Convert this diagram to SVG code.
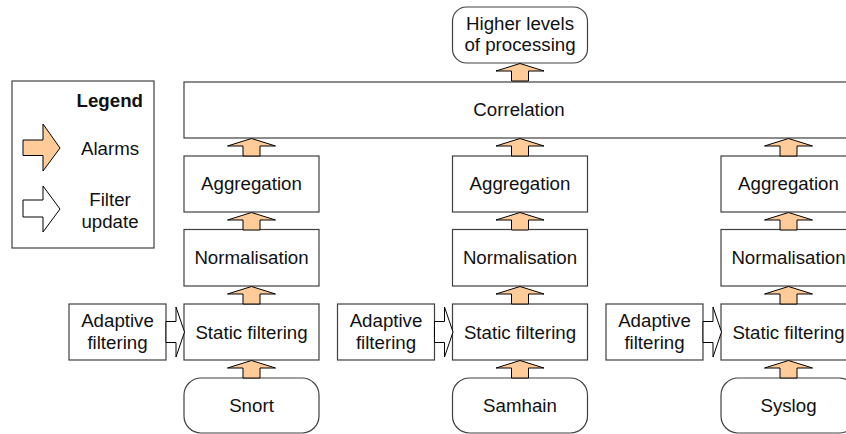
<svg xmlns="http://www.w3.org/2000/svg" width="846" height="434" viewBox="0 0 846 434">
<style>
  .box { fill: #ffffff; stroke: #404040; stroke-width: 1.2; }
  .t { font-family: "Liberation Sans", Arial, sans-serif; font-size: 18.7px; fill: #111111; text-anchor: middle; }
  .b { font-weight: bold; text-anchor: end; }
  .alarm { fill: #FFCC99; stroke: #000000; stroke-width: 1; stroke-linejoin: miter; }
  .upd { fill: #ffffff; stroke: #000000; stroke-width: 1; }
</style>
<defs>
  <polygon id="up" class="alarm" points="0,0 24,7.5 8.5,7.5 8.5,17.5 -8.5,17.5 -8.5,7.5 -24,7.5"/>
  <polygon id="right" class="upd" points="0,0 10,0 10,-14.5 18.5,10.5 10,35.5 10,21 0,21"/>
</defs>
<rect width="846" height="434" fill="#ffffff"/>

<g id="legend">
  <rect class="box" x="12" y="81" width="142" height="167"/>
  <text class="t b" x="143" y="106.5">Legend</text>
  <polygon class="alarm" points="23,140 43,140 43,124 60,148 43,171 43,155.5 23,155.5"/>
  <text class="t" x="110" y="155">Alarms</text>
  <polygon class="upd" points="23,200 43,200 43,186 60,209 43,232 43,217 23,217"/>
  <text class="t" x="110" y="206">Filter</text>
  <text class="t" x="110" y="227.5">update</text>
</g>

<g id="higher">
  <rect class="box" x="452.5" y="7" width="135" height="56" rx="14" ry="14"/>
  <text class="t" x="520" y="29.5">Higher levels</text>
  <text class="t" x="520" y="51">of processing</text>
</g>

<g id="correlation">
  <rect class="box" x="184" y="82" width="680" height="56"/>
  <text class="t" x="519" y="115.5">Correlation</text>
</g>

<g id="agg1"><rect class="box" x="184" y="156" width="135" height="56"/><text class="t" x="251.5" y="189.5">Aggregation</text></g>
<g id="norm1"><rect class="box" x="184" y="229.5" width="135" height="56.5"/><text class="t" x="251.5" y="263.5">Normalisation</text></g>
<g id="static1"><rect class="box" x="184" y="304" width="135" height="56"/><text class="t" x="251.5" y="338.5">Static filtering</text></g>
<g id="adapt1"><rect class="box" x="69" y="304" width="97" height="56"/><text class="t" x="117.5" y="327">Adaptive</text><text class="t" x="117.5" y="349">filtering</text></g>
<g id="snort"><rect class="box" x="184" y="378" width="135" height="55" rx="17" ry="17"/><text class="t" x="251.5" y="411.5">Snort</text></g>

<g id="agg2"><rect class="box" x="452.5" y="156" width="135" height="56"/><text class="t" x="520" y="189.5">Aggregation</text></g>
<g id="norm2"><rect class="box" x="452.5" y="229.5" width="135" height="56.5"/><text class="t" x="520" y="263.5">Normalisation</text></g>
<g id="static2"><rect class="box" x="452.5" y="304" width="135" height="56"/><text class="t" x="520" y="338.5">Static filtering</text></g>
<g id="adapt2"><rect class="box" x="337.5" y="304" width="97" height="56"/><text class="t" x="386" y="327">Adaptive</text><text class="t" x="386" y="349">filtering</text></g>
<g id="samhain"><rect class="box" x="452.5" y="378" width="135" height="55" rx="17" ry="17"/><text class="t" x="520" y="411.5">Samhain</text></g>

<g id="agg3"><rect class="box" x="721" y="156" width="135" height="56"/><text class="t" x="788.5" y="189.5">Aggregation</text></g>
<g id="norm3"><rect class="box" x="721" y="229.5" width="135" height="56.5"/><text class="t" x="788.5" y="263.5">Normalisation</text></g>
<g id="static3"><rect class="box" x="721" y="304" width="135" height="56"/><text class="t" x="788.5" y="338.5">Static filtering</text></g>
<g id="adapt3"><rect class="box" x="606" y="304" width="97" height="56"/><text class="t" x="654.5" y="327">Adaptive</text><text class="t" x="654.5" y="349">filtering</text></g>
<g id="syslog"><rect class="box" x="721" y="378" width="135" height="55" rx="17" ry="17"/><text class="t" x="788.5" y="411.5">Syslog</text></g>

<g id="connectors">
  <use href="#up" x="520" y="63.5"/>
  <use href="#up" x="251.5" y="138.5"/>
  <use href="#up" x="251.5" y="212.5"/>
  <use href="#up" x="251.5" y="286.5"/>
  <use href="#up" x="251.5" y="360.5"/>
  <use href="#up" x="520" y="138.5"/>
  <use href="#up" x="520" y="212.5"/>
  <use href="#up" x="520" y="286.5"/>
  <use href="#up" x="520" y="360.5"/>
  <use href="#up" x="788.5" y="138.5"/>
  <use href="#up" x="788.5" y="212.5"/>
  <use href="#up" x="788.5" y="286.5"/>
  <use href="#up" x="788.5" y="360.5"/>
  <use href="#right" x="166" y="321.5"/>
  <use href="#right" x="434.5" y="321.5"/>
  <use href="#right" x="703" y="321.5"/>
</g>
</svg>
